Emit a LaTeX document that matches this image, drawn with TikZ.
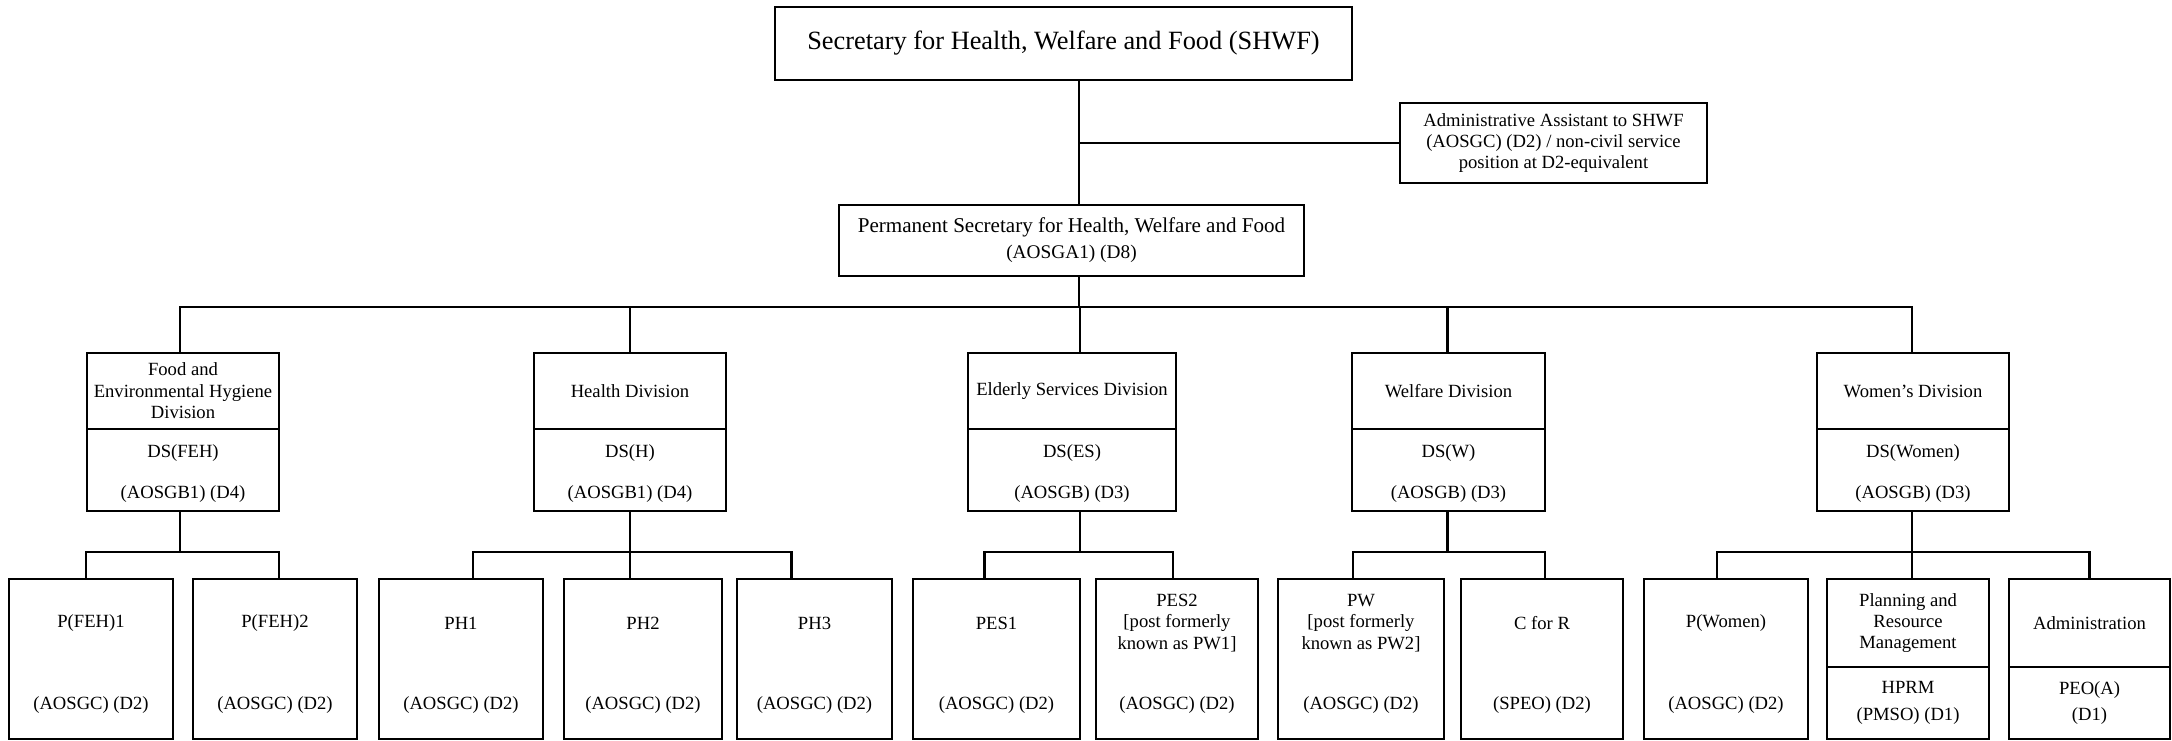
\documentclass[tikz,border=0pt]{standalone}
\usepackage{fontspec}
\setmainfont{Liberation Serif}
\usetikzlibrary{fit}

\begin{document}
\begin{tikzpicture}[x=0.02cm, y=-0.02cm,
    box/.style={draw, line width=1.5pt, inner sep=0pt},
    txt/.style={inner sep=0pt, align=center, font=\fontsize{10.6}{12.2}\selectfont},
    link/.style={line width=1.2pt}]
    \useasboundingbox (0,0) rectangle (2172,740);

    % Top of the chart
    \node[box, fit={(775,7) (1352,80)}] (shwf) {};
    \node[txt, font=\fontsize{15}{18}\selectfont] (shwf-t) at (shwf.center) {Secretary for Health, Welfare and Food (SHWF)};
    \node[box, fit={(839,205) (1304,276)}] (ps) {};
    \node[txt, font=\fontsize{12}{14.8}\selectfont] (ps-t) at (ps.center) {Permanent Secretary for Health, Welfare and Food\\{\fontsize{11}{13}\selectfont (AOSGA1) (D8)}};
    \node[box, fit={(1400,103) (1707,183)}] (aa) {};
    \node[txt] (aa-t) at (aa.center) {Administrative Assistant to SHWF\\(AOSGC) (D2) / non-civil service\\position at D2-equivalent};

    \coordinate (bus) at (1079,307);
    \draw[link] (shwf.south -| bus) -- (ps.north -| bus);
    \draw[link] (aa.west) -- (aa.west -| bus);
    \draw[link] (ps.south -| bus) -- (bus);

    % Divisions
    \foreach \n/\xa/\xb/\dx/\title/\ds/\grade in {
        feh/87/279/-3/{Food and\\Environmental Hygiene\\Division}/DS(FEH)/{(AOSGB1) (D4)},
        health/534/726/0/Health Division/DS(H)/{(AOSGB1) (D4)},
        elderly/968/1176/8/Elderly Services Division/DS(ES)/{(AOSGB) (D3)},
        welfare/1352/1545/-1/Welfare Division/DS(W)/{(AOSGB) (D3)},
        women/1817/2009/-1/Women's Division/DS(Women)/{(AOSGB) (D3)}}{
        \node[box, fit={(\xa,353) (\xb,429)}] (\n) {};
        \node[txt] (\n-t) at (\n.center) {\title};
        \node[box, fit={(\xa,429) (\xb,511)}] (\n-ds) {};
        \node[txt] (\n-g) at ([yshift=-2pt]\n-ds.center) {\ds\\[11pt]\grade};
        \draw[link] (bus) -| ([xshift=\dx*0.02cm]\n.north);
    }

    % Posts under the divisions
    \foreach \n/\xa/\xb/\dx/\top/\bot/\up/\ux in {
        pfeh1/9/173/-5/P(FEH)1/{(AOSGC) (D2)}/feh/-3,
        pfeh2/193/357/4/P(FEH)2/{(AOSGC) (D2)}/feh/-3,
        ph1/379/543/12/PH1/{(AOSGC) (D2)}/health/0,
        ph2/564/722/-13/PH2/{(AOSGC) (D2)}/health/0,
        ph3/737/892/-23/PH3/{(AOSGC) (D2)}/health/0,
        pes1/913/1080/-12/PES1/{(AOSGC) (D2)}/elderly/8,
        pes2/1096/1258/-4/{PES2\\{[}post formerly\\known as PW1]}/{(AOSGC) (D2)}/elderly/8,
        pw/1278/1444/-8/{PW\\{[}post formerly\\known as PW2]}/{(AOSGC) (D2)}/welfare/-1,
        cfr/1461/1623/3/C for R/{(SPEO) (D2)}/welfare/-1,
        pwomen/1644/1808/-9/P(Women)/{(AOSGC) (D2)}/women/-1}{
        \node[box, fit={(\xa,579) (\xb,739)}] (\n) {};
        \node[txt] (\n-t) at ({(\xa+\xb)/2},623) {\top};
        \node[txt] (\n-b) at ({(\xa+\xb)/2},705) {\bot};
        \draw[link] ([xshift=\ux*0.02cm]\up-ds.south) -- ++(0,40) -| ([xshift=\dx*0.02cm]\n.north);
    }

    % Women's Division, two-part posts
    \node[box, fit={(1827,579) (1989,667)}] (prm) {};
    \node[txt] (prm-t) at (prm.center) {Planning and\\Resource\\Management};
    \node[box, fit={(1827,667) (1989,739)}] (prm-ds) {};
    \node[txt] (prm-g) at (prm-ds.center) {HPRM\\[3pt](PMSO) (D1)};
    \node[box, fit={(2009,579) (2170,667)}] (adm) {};
    \node[txt] (adm-t) at (adm.center) {Administration};
    \node[box, fit={(2009,667) (2170,739)}] (adm-ds) {};
    \node[txt] (adm-g) at (adm-ds.center) {PEO(A)\\[3pt](D1)};
    \draw[link] ([xshift=-0.02cm]women-ds.south) -- ++(0,40) -| ([xshift=0.08cm]prm.north);
    \draw[link] ([xshift=-0.02cm]women-ds.south) -- ++(0,40) -| (adm.north);
\end{tikzpicture}
\end{document}
